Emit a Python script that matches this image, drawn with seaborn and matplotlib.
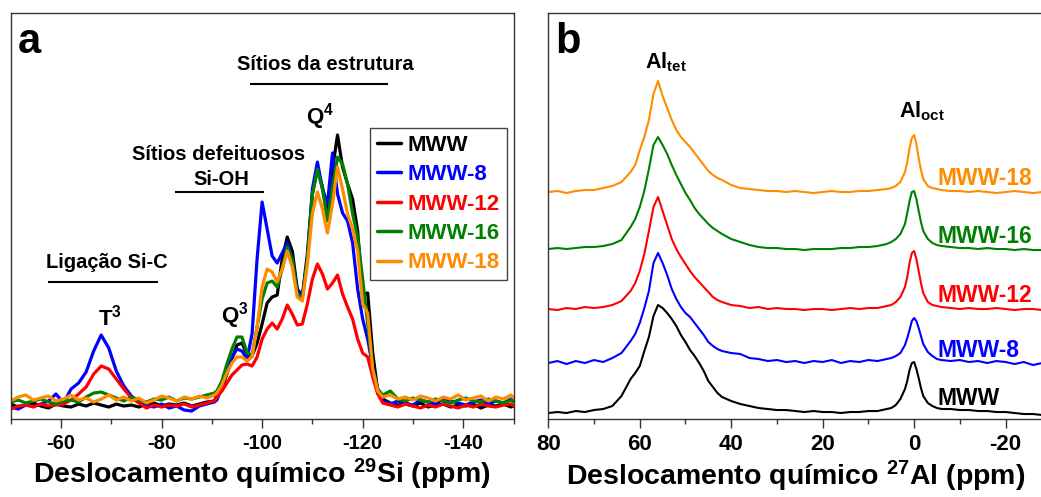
import matplotlib
matplotlib.use("Agg")
import matplotlib.pyplot as plt
from matplotlib.ticker import MultipleLocator
import pandas as pd
import seaborn as sns


SAMPLES = ["MWW", "MWW-8", "MWW-12", "MWW-16", "MWW-18"]
COLORS = {
    "MWW": "#000000",
    "MWW-8": "#0000FF",
    "MWW-12": "#FF0000",
    "MWW-16": "#008000",
    "MWW-18": "#FF8C00",
}

# 29Si spectra (intensity, arbitrary units)
si_ppm = [-50, -51.5, -53, -54.5, -56, -57.5, -59, -60.5, -62, -63.5, -65, -66.5, -68, -69.5,
          -71, -72.5, -74, -75.5, -77, -78.5, -80, -81.5, -83, -84.5, -86, -87.5, -89, -90.5,
          -91, -92, -93, -94, -95, -96, -97, -98, -99, -100, -101, -102, -103, -104, -105, -106,
          -107, -108, -109, -110, -111, -112, -113, -114, -115, -116, -117, -118, -119, -120,
          -121, -122, -123, -124,
          -125.5, -127, -128.5, -130, -131.5, -133, -134.5, -136, -137.5, -139, -140.5, -142,
          -143.5, -145, -146.5, -148, -149.5, -150]

si_mww = [15, 12, 14, 16, 13, 11, 15, 13, 12, 15, 13, 16, 14, 12, 15, 13, 14, 12, 15, 16, 13, 15, 14, 16, 13, 15, 17, 18,
          24, 30, 45, 60, 74, 76, 65, 63, 76, 95, 116, 122, 124, 160, 182, 168, 130, 123, 165, 225, 250, 232, 208,
          250, 284, 252, 235, 220, 188, 125, 126, 66, 28, 20,
          16, 14, 15, 13, 16, 12, 14, 15, 12, 14, 13, 15, 11, 14, 13, 15, 12, 13]
si_mww8 = [12, 10, 14, 13, 15, 18, 25, 16, 30, 36, 47, 68, 84, 71, 48, 33, 23, 17, 14, 12, 15, 11, 13, 9, 8, 13, 15, 17,
           19, 32, 50, 62, 70, 68, 60, 85, 160, 217, 190, 163, 156, 166, 176, 160, 128, 122, 160, 230, 257, 230, 215,
           266, 225, 206, 198, 176, 130, 100, 80, 52, 30, 18,
           15, 18, 16, 14, 19, 17, 15, 20, 18, 16, 14, 17, 19, 15, 18, 16, 20, 19]
si_mww12 = [10, 13, 14, 12, 15, 13, 14, 15, 19, 25, 32, 45, 53, 50, 40, 30, 21, 16, 11, 14, 12, 14, 13, 15, 12, 14, 16, 18,
            22, 28, 36, 44, 49, 54, 55, 53, 62, 80, 90, 96, 90, 100, 114, 105, 94, 95, 115, 140, 155, 145, 130,
            136, 144, 125, 112, 100, 80, 66, 62, 42, 25, 16,
            14, 12, 15, 13, 11, 14, 12, 15, 13, 11, 14, 12, 15, 13, 12, 14, 15, 13]
si_mww16 = [17, 19, 16, 18, 20, 17, 15, 18, 19, 17, 22, 26, 27, 24, 21, 18, 22, 19, 17, 20, 19, 22, 18, 21, 20, 22, 24, 26,
            28, 38, 55, 70, 82, 82, 66, 64, 92, 120, 136, 138, 132, 150, 172, 160, 125, 120, 160, 225, 250, 230, 198,
            232, 262, 255, 235, 205, 182, 140, 95, 50, 30, 24,
            28, 20, 18, 21, 19, 17, 20, 18, 16, 19, 21, 18, 17, 20, 18, 16, 19, 17]
si_mww18 = [18, 22, 24, 19, 21, 23, 18, 20, 24, 19, 21, 17, 20, 24, 19, 22, 18, 21, 16, 19, 23, 21, 18, 22, 20, 23, 21, 24,
            26, 34, 46, 56, 62, 62, 58, 62, 92, 132, 150, 147, 137, 150, 168, 152, 122, 118, 155, 205, 227, 210, 186,
            215, 252, 230, 205, 190, 168, 115, 106, 50, 28, 22,
            24, 20, 22, 19, 23, 21, 18, 22, 20, 24, 19, 21, 23, 18, 22, 20, 24, 21]

# 27Al spectra (intensity above each trace's own baseline)
al_ppm = [80, 78, 76, 74, 72, 70, 68, 66, 64, 62,
          61, 60, 59, 58, 57, 56, 55, 54, 53, 52, 51, 50, 49, 48, 47, 46, 45, 44, 43, 42,
          40, 38, 36, 34, 32, 30, 28, 26, 24, 22, 20, 18, 16, 14, 12, 10, 8, 6,
          5, 4, 3, 2, 1.5, 1, 0.5, 0, -0.5, -1, -1.5, -2, -3, -4, -5, -6,
          -8, -10, -12, -14, -16, -18, -20, -22, -24, -26, -28]

al_mww = [0, 1, 0, 2, 1, 3, 4, 7, 17, 34,
          40, 47, 62, 76, 97, 108, 105, 100, 94, 87, 78, 71, 63, 57, 50, 42, 32, 26, 20, 16,
          12, 9, 7, 5, 4, 3, 3, 2, 1, 2, 1, 1, 0, 1, 1, 2, 2, 4,
          5, 8, 14, 24, 32, 43, 50, 51, 44, 35, 25, 17, 10, 7, 5, 4,
          4, 3, 3, 2, 2, 1, 1, 0, -1, -1, -2]
al_mww8 = [0, 2, -1, 2, 0, 3, 1, 5, 10, 22,
           29, 40, 55, 72, 100, 110, 100, 88, 74, 64, 56, 50, 46, 40, 34, 28, 21, 17, 14, 12,
           10, 9, 5, 4, 2, 3, 1, 2, 0, 2, 1, 3, 0, 2, 1, 3, 2, 4,
           5, 7, 10, 18, 25, 33, 42, 45, 42, 35, 27, 19, 11, 7, 4, 3,
           2, 3, 1, 2, 0, 2, 1, -1, 1, -2, 0]
al_mww12 = [0, -1, 1, 0, 2, 1, 2, 4, 8, 18,
            26, 38, 55, 78, 102, 112, 98, 84, 70, 60, 52, 45, 38, 32, 27, 22, 17, 12, 9, 7,
            4, 3, 1, 2, 0, 1, 0, 0, -1, 0, 0, -1, 0, 1, 0, 1, 1, 3,
            4, 7, 12, 22, 32, 46, 56, 58, 50, 38, 26, 16, 7, 4, 3, 2,
            1, 0, 1, 0, 0, 1, 0, -1, 0, 0, -1]
al_mww16 = [0, 1, 0, 1, 2, 2, 3, 5, 9, 22,
            30, 42, 58, 80, 104, 112, 104, 95, 84, 74, 65, 56, 49, 41, 35, 30, 25, 21, 18, 15,
            10, 7, 4, 2, 1, 1, 0, 0, -1, 0, 0, 0, 1, 1, 2, 2, 3, 5,
            7, 10, 15, 25, 36, 48, 57, 58, 50, 38, 27, 18, 10, 6, 4, 3,
            2, 1, 1, 0, 1, 0, 0, -1, 0, -1, -1]
al_mww18 = [0, 1, -1, 1, 2, 2, 4, 6, 10, 20,
            27, 42, 55, 72, 98, 111, 96, 84, 72, 62, 55, 50, 45, 39, 33, 27, 21, 17, 14, 12,
            7, 4, 3, 2, 1, 1, 0, 1, 0, -1, 0, 1, 0, 0, 1, 1, 2, 3,
            4, 6, 10, 20, 30, 44, 54, 57, 48, 34, 22, 13, 6, 4, 3, 2,
            1, 1, 0, 1, 0, -1, 0, 1, 0, -1, 0]
al_offsets = [6, 56, 110, 170, 227]


def to_long(ppm, series, offsets=None):
    frames = []
    for i, (name, vals) in enumerate(zip(SAMPLES, series)):
        shift = offsets[i] if offsets else 0
        frames.append(pd.DataFrame({
            "ppm": ppm,
            "intensity": [v + shift for v in vals],
            "sample": name,
        }))
    return pd.concat(frames, ignore_index=True)


def style_axis(ax, xlim, xlabel, ticksize):
    ax.set_xlim(*xlim)
    ax.set_ylim(0, 406)
    ax.set_yticks([])
    ax.set_ylabel("")
    ax.set_xlabel(xlabel, fontsize=20.5, fontweight="bold", labelpad=3)
    ax.xaxis.set_major_locator(MultipleLocator(20))
    ax.xaxis.set_minor_locator(MultipleLocator(10))
    ax.tick_params(axis="x", which="both", bottom=True, top=False, direction="out",
                   colors="#333333", labelcolor="black")
    ax.tick_params(axis="x", which="major", length=6.5, width=1.0, labelsize=ticksize, pad=4)
    ax.tick_params(axis="x", which="minor", length=3.5, width=1.0)
    for lab in ax.get_xticklabels():
        lab.set_fontweight("bold")
    for sp in ax.spines.values():
        sp.set_color("#333333")
        sp.set_linewidth(1.0)


sns.set_theme(style="white")
plt.rcParams["font.family"] = ["Liberation Sans", "DejaVu Sans"]
plt.rcParams["font.weight"] = "bold"
plt.rcParams["text.color"] = "black"
plt.rcParams["axes.labelcolor"] = "black"
plt.rcParams["mathtext.default"] = "regular"
plt.rcParams["axes.unicode_minus"] = False

fig = plt.figure(figsize=(10.41, 4.97), dpi=100)
ax_a = fig.add_axes([0.01028, 0.1569, 0.4830, 0.8169])
ax_b = fig.add_axes([0.5267, 0.1569, 0.4744, 0.8169])

# panel a
si_df = to_long(si_ppm, [si_mww, si_mww8, si_mww12, si_mww16, si_mww18])
sns.lineplot(data=si_df, x="ppm", y="intensity", hue="sample", hue_order=SAMPLES,
             palette=COLORS, sort=False, estimator=None, lw=2.3, ax=ax_a)
style_axis(ax_a, (-50, -150), r"Deslocamento químico $^{29}$Si (ppm)", 14.5)
handles, labels = ax_a.get_legend_handles_labels()
leg = ax_a.legend(handles, labels, loc="upper left", bbox_to_anchor=(0.7146, 0.7167),
                  borderaxespad=0, frameon=True, fancybox=False, framealpha=1,
                  edgecolor="#444444", handlelength=1.1, handletextpad=0.3,
                  labelspacing=0.38, borderpad=0.3, labelcolor="linecolor",
                  prop={"weight": "bold", "size": 16})
leg.get_frame().set_linewidth(1.0)
for h in leg.legend_handles:
    h.set_linewidth(2.5)

ax_a.text(0.0145, 0.901, "a", transform=ax_a.transAxes, fontsize=30, fontweight="bold")
ax_a.text(-112.5, 349, "Sítios da estrutura", ha="center", fontsize=14.5, fontweight="bold")
ax_a.hlines(335, -97.6, -125.0, color="black", lw=1.5)
ax_a.text(-111.5, 296, "Q$^4$", ha="center", fontsize=16, fontweight="bold")
ax_a.text(-91.4, 259, "Sítios defeituosos", ha="center", fontsize=14.5, fontweight="bold")
ax_a.text(-91.8, 234, "Si-OH", ha="center", fontsize=14.5, fontweight="bold")
ax_a.hlines(227, -82.7, -100.4, color="black", lw=1.5)
ax_a.text(-69.2, 151, "Ligação Si-C", ha="center", fontsize=14.5, fontweight="bold")
ax_a.hlines(137, -57.4, -79.3, color="black", lw=1.5)
ax_a.text(-69.7, 94, "T$^3$", ha="center", fontsize=16, fontweight="bold")
ax_a.text(-94.6, 97, "Q$^3$", ha="center", fontsize=16, fontweight="bold")

# panel b
al_df = to_long(al_ppm, [al_mww, al_mww8, al_mww12, al_mww16, al_mww18], al_offsets)
sns.lineplot(data=al_df, x="ppm", y="intensity", hue="sample", hue_order=SAMPLES,
             palette=COLORS, sort=False, estimator=None, lw=1.5, ax=ax_b, legend=False)
style_axis(ax_b, (80, -28), r"Deslocamento químico $^{27}$Al (ppm)", 16)
ax_b.spines["right"].set_visible(False)

ax_b.text(0.0136, 0.901, "b", transform=ax_b.transAxes, fontsize=30, fontweight="bold")
ax_b.text(54.3, 351, "Al$_{tet}$", ha="center", fontsize=15.5, fontweight="bold")
ax_b.text(-1.8, 302, "Al$_{oct}$", ha="center", fontsize=15.5, fontweight="bold")
label_y = [14, 62, 117, 176, 234]
for name, y in zip(SAMPLES, label_y):
    ax_b.text(-5.2, y, name, ha="left", color=COLORS[name], fontsize=16.5, fontweight="bold")

fig.savefig("out.png", dpi=100)
plt.close(fig)
